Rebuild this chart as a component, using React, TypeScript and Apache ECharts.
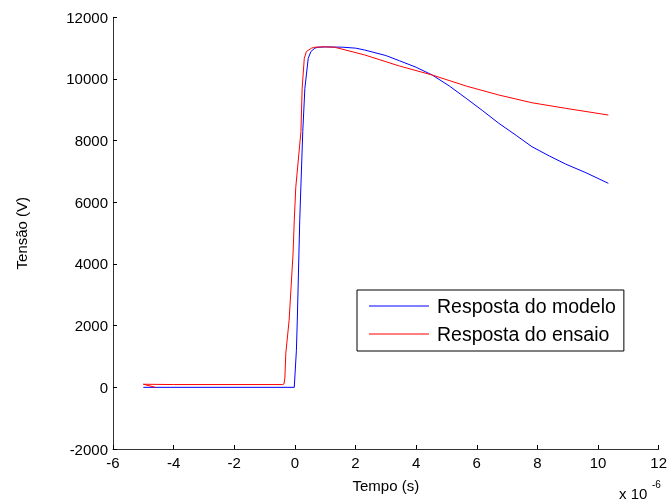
import React, { useEffect, useRef } from "react";
import * as echarts from "echarts";

const FONT = "'Liberation Sans', Arial, Helvetica, sans-serif";

// Time in units of 1e-6 s
const modelTime = [-5, -0.02, 0.05, 0.08, 0.16, 0.26, 0.33, 0.44, 0.53, 0.66, 0.76, 1.0, 1.58, 2.0, 2.3, 3.0, 3.45, 4.0, 4.53, 5.1, 5.65, 6.2, 6.73, 7.3, 7.82, 8.4, 8.93, 9.6, 10.34];
const modelVolts = [0, 0, 1200, 2180, 5420, 8300, 9700, 10670, 10890, 11000, 11030, 11040, 11030, 11000, 10940, 10760, 10590, 10380, 10128, 9770, 9372, 8966, 8561, 8170, 7803, 7500, 7241, 6960, 6616];

const testTime = [-4.6, -5, -4, -0.4, -0.36, -0.33, -0.3, -0.19, -0.06, -0.02, 0.03, 0.2, 0.24, 0.31, 0.38, 0.55, 0.66, 1.0, 1.31, 2.3, 3.45, 4.53, 5.65, 6.73, 7.82, 8.93, 10.34];
const testVolts = [0, 100, 90, 90, 110, 300, 1100, 2180, 4350, 5420, 6490, 8300, 9700, 10670, 10890, 11000, 11030, 11040, 11030, 10780, 10420, 10128, 9771, 9479, 9229, 9048, 8831];

const seriesNames = ["Resposta do modelo", "Resposta do ensaio"];
const xTicks = { min: -6, max: 12, interval: 2 };
const yTicks = { min: -2000, max: 12000, interval: 2000 };

export default function App() {
  const ref = useRef<HTMLDivElement>(null);
  useEffect(() => {
    if (!ref.current) return;
    const chart = echarts.init(ref.current, undefined, { renderer: "svg" });
    const axisCommon = {
      type: "value" as const,
      nameLocation: "middle" as const,
      nameTextStyle: { fontSize: 15, color: "#000", fontFamily: FONT },
      axisLine: { show: true, onZero: false, lineStyle: { color: "#333", width: 1 } },
      axisTick: { show: true, inside: true, length: 4, lineStyle: { color: "#000", width: 1 } },
      splitLine: { show: false },
    };
    chart.setOption({
      animation: false,
      grid: { left: 113, right: 9.5, top: 17.3, bottom: 53 },
      xAxis: {
        ...axisCommon,
        ...xTicks,
        name: "Tempo (s)",
        nameGap: 29,
        axisLabel: { fontSize: 15, color: "#000", fontFamily: FONT, margin: 6, formatter: (v: number) => String(v) },
      },
      yAxis: {
        ...axisCommon,
        ...yTicks,
        name: "Tensão (V)",
        nameGap: 84,
        axisLabel: { fontSize: 15, color: "#000", fontFamily: FONT, margin: 5, formatter: (v: number) => String(v) },
      },
      legend: {
        orient: "vertical",
        left: 357,
        top: 290,
        icon: "rect",
        itemWidth: 60,
        itemHeight: 1.2,
        itemGap: 8,
        padding: [6, 8, 7, 12],
        borderColor: "#000",
        borderWidth: 1,
        backgroundColor: "#fff",
        textStyle: { fontSize: 19.5, color: "#000", fontFamily: FONT, padding: [0, 0, 0, 3], lineHeight: 19 },
        data: seriesNames,
      },
      graphic: [
        { type: "text", left: 619, top: 486, style: { text: "x 10", fontSize: 15, fill: "#000", fontFamily: FONT } },
        { type: "text", left: 652, top: 479, style: { text: "-6", fontSize: 10, fill: "#000", fontFamily: FONT } },
      ],
      series: [
        {
          name: seriesNames[0],
          type: "line",
          symbol: "none",
          lineStyle: { color: "#0000ff", width: 1 },
          itemStyle: { color: "#0000ff" },
          data: modelTime.map((t, i) => [t, modelVolts[i]]),
          z: 2,
        },
        {
          name: seriesNames[1],
          type: "line",
          symbol: "none",
          lineStyle: { color: "#ff0000", width: 1 },
          itemStyle: { color: "#ff0000" },
          data: testTime.map((t, i) => [t, testVolts[i]]),
          z: 3,
        },
      ],
    });
    return () => chart.dispose();
  }, []);
  return <div ref={ref} style={{ position: "fixed", left: 0, top: 0, width: 670, height: 502 }} />;
}
